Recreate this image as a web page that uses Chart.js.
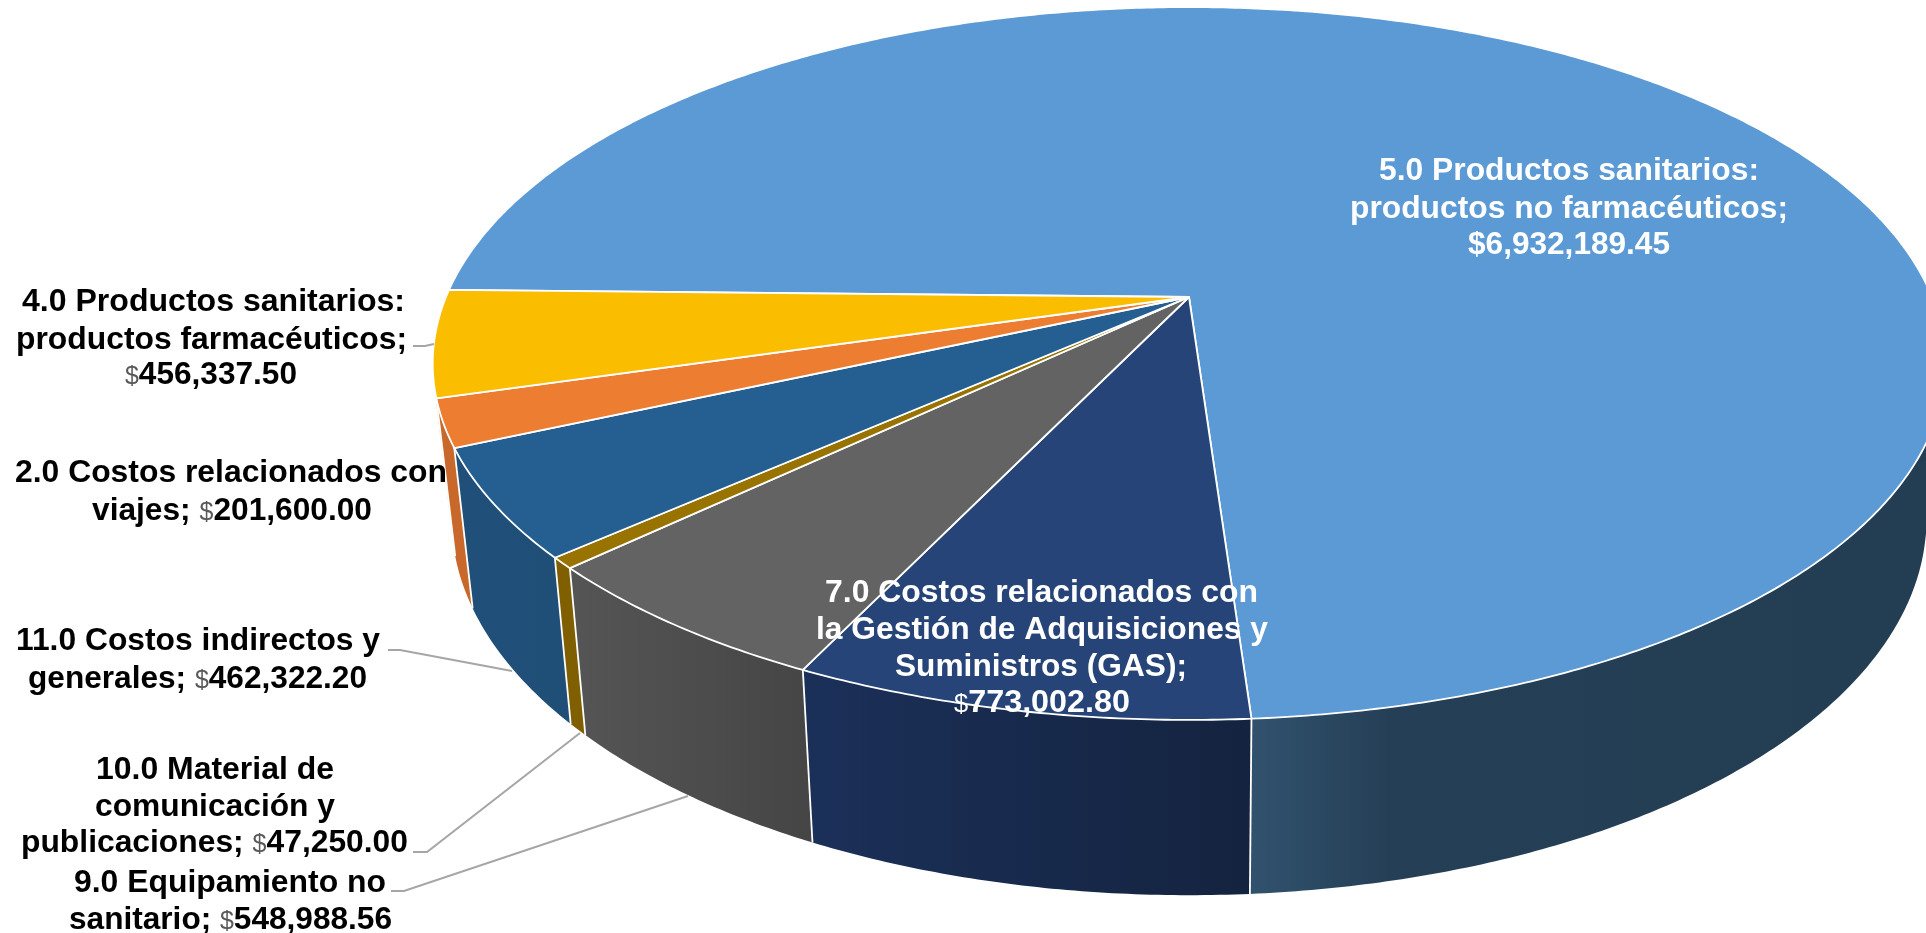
<!DOCTYPE html>
<html lang="es">
<head>
<meta charset="utf-8">
<title>Costos por categoría</title>
<style>
html,body{margin:0;padding:0;background:#fff;overflow:hidden}
canvas{display:block}
</style>
<script src="https://cdn.jsdelivr.net/npm/chart.js@4/dist/chart.umd.js"></script>
</head>
<body>
<canvas id="c" width="1926" height="933"></canvas>
<script>
// ---- data ----
const categories = [
  "5.0 Productos sanitarios: productos no farmacéuticos",
  "7.0 Costos relacionados con la Gestión de Adquisiciones y Suministros (GAS)",
  "9.0 Equipamiento no sanitario",
  "10.0 Material de comunicación y publicaciones",
  "11.0 Costos indirectos y generales",
  "2.0 Costos relacionados con viajes",
  "4.0 Productos sanitarios: productos farmacéuticos"
];
const values = [6932189.45, 773002.80, 548988.56, 47250.00, 462322.20, 201600.00, 456337.50];
const topColors = ["#5B9AD5", "#264478", "#636363", "#997300", "#255E91", "#ED7D31", "#FBBD00"];
const wallStops = [
  [[0, "#31526E"], [0.2, "#253F56"], [1, "#233D53"]],
  [[0, "#1B3059"], [1, "#14233F"]],
  [[0, "#555555"], [1, "#454545"]],
  [[0, "#7F5F00"], [1, "#7F5F00"]],
  [[0, "#205079"], [1, "#1F4E77"]],
  [[0, "#C8692B"], [1, "#C8692B"]],
  [[0, "#D09C00"], [1, "#D09C00"]]
];
// text of each data label, split in lines; the value is appended to the last line
const labelLines = [
  ["5.0 Productos sanitarios:", "productos no farmacéuticos;", ""],
  ["7.0 Costos relacionados con", "la Gestión de Adquisiciones y", "Suministros (GAS);", ""],
  ["9.0 Equipamiento no", "sanitario;"],
  ["10.0 Material de", "comunicación y", "publicaciones;"],
  ["11.0 Costos indirectos y", "generales;"],
  ["2.0 Costos relacionados con", "viajes;"],
  ["4.0 Productos sanitarios:", "productos farmacéuticos;", ""]
];
const labelColors = ["#FFFFFF", "#FFFFFF", "#000000", "#000000", "#000000", "#000000", "#000000"];
// [left, right, baseline] of each label line
const labelBoxes = [
  [[1379,1759,180],[1350,1788,218],[1468,1670,254]],
  [[825,1258,602],[816,1268,639],[895,1187,676],[954,1130,712]],
  [[74,386,892],[69,392,929]],
  [[96,334,779],[95,335,816],[21,408,852]],
  [[16,380,650],[28,367,688]],
  [[15,447,482],[92,372,520]],
  [[22,405,311],[16,407,349],[125,297,384]]
];
const leaderLines = [
  null, null,
  [[391,891],[404,891],[688,796]],
  [[413,852],[427,852],[580,733]],
  [[388,650],[400,650],[512,671]],
  null,
  [[413,346],[425,346],[434,344]]
];

// ---- tilted-disc projection of the pie's angles ----
const CX = 1189, CY = 297, RX = 743, RY = 344, PERSP = 0.1866;
const BASE_SX = 0.975, BASE_DY = 152, BASE_KY = 0.055;
const STEP = Math.PI / 360;

function topPt(a) {
  const X = Math.cos(a), Y = Math.sin(a), w = 1 - PERSP * Y;
  return [CX + RX * X / w, CY + RY * Y / w];
}
function basePt(a) {
  const p = topPt(a);
  return [CX + BASE_SX * (p[0] - CX), p[1] + BASE_DY + BASE_KY * (p[1] - CY)];
}
function sampleAngles(a0, a1) {
  const out = [], n = Math.max(1, Math.ceil((a1 - a0) / STEP));
  for (let i = 0; i <= n; i++) out.push(a0 + (a1 - a0) * i / n);
  return out;
}
function isFront(a0, a1) {
  const t0 = topPt(a0), t1 = topPt(a1), b0 = basePt(a0);
  const ex = t1[0] - t0[0], ey = t1[1] - t0[1], dx = b0[0] - t0[0], dy = b0[1] - t0[1];
  return ex * dy - ey * dx < 0;
}

const disc3d = {
  id: "disc3d",
  beforeDraw(chart) {
    chart.ctx.save();
    chart.ctx.fillStyle = "#fff";
    chart.ctx.fillRect(0, 0, chart.width, chart.height);
    chart.ctx.restore();
  },
  beforeDatasetsDraw(chart) {
    const ctx = chart.ctx, arcs = chart.getDatasetMeta(0).data;
    ctx.save();
    ctx.lineJoin = "round";
    // side walls
    const fronts = arcs.map(el => {
      const as = sampleAngles(el.startAngle, el.endAngle), f = [];
      for (let i = 0; i < as.length - 1; i++) {
        if (isFront(as[i], as[i + 1])) { if (!f.length) f.push(as[i]); f.push(as[i + 1]); }
      }
      return f;
    });
    fronts.forEach((f, i) => {
      if (f.length < 2) return;
      const tops = f.map(topPt), bases = f.map(basePt);
      const xs = tops.concat(bases).map(p => p[0]);
      const g = ctx.createLinearGradient(Math.min(...xs), 0, Math.max(...xs), 0);
      wallStops[i].forEach(s => g.addColorStop(s[0], s[1]));
      ctx.beginPath();
      tops.forEach((p, k) => k ? ctx.lineTo(p[0], p[1]) : ctx.moveTo(p[0], p[1]));
      bases.reverse().forEach(p => ctx.lineTo(p[0], p[1]));
      ctx.closePath();
      ctx.fillStyle = g;
      ctx.fill();
    });
    // separators between neighbouring walls
    ctx.strokeStyle = "#FFFFFF";
    ctx.lineWidth = 1.8;
    arcs.forEach((el, i) => {
      const nx = fronts[i + 1];
      if (!nx || nx.length < 2 || fronts[i].length < 2) return;
      const a = el.endAngle, t = topPt(a), b = basePt(a);
      ctx.beginPath(); ctx.moveTo(t[0], t[1]); ctx.lineTo(b[0], b[1]); ctx.stroke();
    });
    // top faces
    arcs.forEach(el => {
      ctx.beginPath();
      ctx.moveTo(CX, CY);
      sampleAngles(el.startAngle, el.endAngle).forEach(a => { const p = topPt(a); ctx.lineTo(p[0], p[1]); });
      ctx.closePath();
      ctx.fillStyle = el.options.backgroundColor;
      ctx.fill();
      ctx.strokeStyle = el.options.borderColor;
      ctx.lineWidth = el.options.borderWidth;
      ctx.stroke();
    });
    ctx.restore();
    return false;
  },
  afterDraw(chart) {
    const ctx = chart.ctx;
    ctx.save();
    // leader lines
    ctx.strokeStyle = "#A6A6A6";
    ctx.lineWidth = 2;
    leaderLines.forEach(l => {
      if (!l) return;
      ctx.beginPath();
      l.forEach((p, k) => k ? ctx.lineTo(p[0], p[1]) : ctx.moveTo(p[0], p[1]));
      ctx.stroke();
    });
    // data labels
    const BOLD = "bold 31.7px 'Liberation Sans', Arial, sans-serif";
    const REG = "25px 'Liberation Sans', Arial, sans-serif";
    ctx.textBaseline = "alphabetic";
    ctx.textAlign = "left";
    labelLines.forEach((lines, i) => {
      const money = "$" + values[i].toLocaleString("en-US", { minimumFractionDigits: 2, maximumFractionDigits: 2 });
      const boldDollar = i === 0;
      lines.forEach((line, k) => {
        const last = k === lines.length - 1;
        const runs = [];
        if (last) {
          if (line) runs.push([line + " ", BOLD, labelColors[i]]);
          if (boldDollar) runs.push([money, BOLD, labelColors[i]]);
          else {
            runs.push(["$", REG, i === 1 ? "#FFFFFF" : "#595959"]);
            runs.push([money.slice(1), BOLD, labelColors[i]]);
          }
        } else runs.push([line, BOLD, labelColors[i]]);
        let w = 0;
        runs.forEach(r => { ctx.font = r[1]; w += ctx.measureText(r[0]).width; });
        const box = labelBoxes[i][k];
        ctx.save();
        ctx.translate(box[0], box[2]);
        ctx.scale((box[1] - box[0]) / w, 1);
        let x = 0;
        runs.forEach(r => {
          ctx.font = r[1]; ctx.fillStyle = r[2];
          ctx.fillText(r[0], x, 0);
          x += ctx.measureText(r[0]).width;
        });
        ctx.restore();
      });
    });
    ctx.restore();
  }
};

new Chart(document.getElementById("c"), {
  type: "pie",
  data: {
    labels: categories,
    datasets: [{ data: values, backgroundColor: topColors, borderColor: "#FFFFFF", borderWidth: 1.8 }]
  },
  options: {
    responsive: false,
    animation: false,
    rotation: 271.2,
    events: [],
    plugins: { legend: { display: false }, tooltip: { enabled: false } }
  },
  plugins: [disc3d]
});
</script>
</body>
</html>
